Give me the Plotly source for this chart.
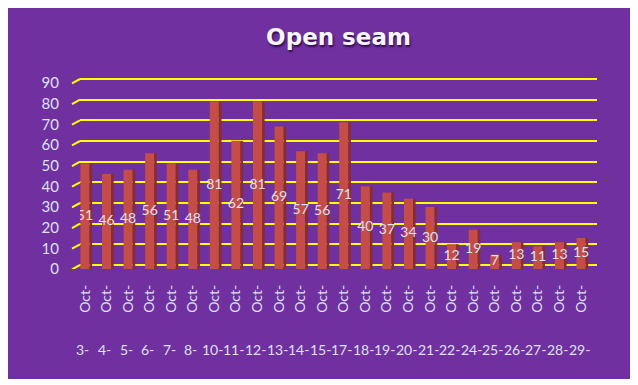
import plotly.graph_objects as go

days = ["3-", "4-", "5-", "6-", "7-", "8-", "10-", "11-", "12-", "13-", "14-", "15-",
        "17-", "18-", "19-", "20-", "21-", "22-", "24-", "25-", "26-", "27-", "28-", "29-"]
month_label = "Oct-"
values = [51, 46, 48, 56, 51, 48, 81, 62, 81, 69, 57, 56,
          71, 40, 37, 34, 30, 12, 19, 7, 13, 11, 13, 15]
y_ticks = [0, 10, 20, 30, 40, 50, 60, 70, 80, 90]

idx = list(range(len(values)))
txt_color = "#DCE1F2"
font_family = "Lato, 'Open Sans', sans-serif"

# page is offset by the 8px body margin; figure coordinates = page - 8
FIG_W, FIG_H = 624, 371
PLOT_L, PLOT_R = 72, 589
PLOT_T, PLOT_B = 64, 261
PLOT_W = PLOT_R - PLOT_L
PLOT_H = PLOT_B - PLOT_T
PX_PER_UNIT = 186.0 / 90.0
grid_shift = 4.0 / PX_PER_UNIT

fig = go.Figure()
# front face
fig.add_trace(go.Bar(x=idx, y=values, width=0.42, offset=-0.21,
                     marker=dict(color="#C44D49", line=dict(width=0)),
                     hoverinfo="skip", showlegend=False))
# side face (3D look)
fig.add_trace(go.Bar(x=idx, y=values, width=0.12, offset=0.21,
                     marker=dict(color="#8A2C29", line=dict(width=0)),
                     hoverinfo="skip", showlegend=False))
# data labels, centred in the bars
fig.add_trace(go.Scatter(x=idx, y=[v / 2 for v in values], mode="text",
                         text=[str(v) for v in values],
                         textfont=dict(color=txt_color, size=14, family=font_family),
                         hoverinfo="skip", showlegend=False))

shapes = []
# small perspective diagonals at the left end of each gridline
for t in y_ticks:
    shapes.append(dict(type="line", xref="paper", yref="y2",
                       x0=0, y0=t, x1=-8 / PLOT_W, y1=t - grid_shift * 1.1,
                       line=dict(color="#FFFF00", width=2), layer="below"))

annotations = []
for i, d in enumerate(days):
    annotations.append(dict(x=i, y=-(349 - 8 - PLOT_B) / PLOT_H, xref="x", yref="paper",
                            text=d, showarrow=False, xshift=-2,
                            font=dict(color=txt_color, size=14, family=font_family),
                            xanchor="center", yanchor="middle"))

fig.update_layout(
    width=FIG_W, height=FIG_H,
    margin=dict(l=PLOT_L, r=FIG_W - PLOT_R, t=PLOT_T, b=FIG_H - PLOT_B),
    paper_bgcolor="#7030A0",
    plot_bgcolor="rgba(0,0,0,0)",
    barmode="overlay",
    title=dict(text="<b>Open seam</b>", x=0.5, xref="paper", xanchor="center",
               y=1 - 28.5 / FIG_H, yanchor="middle",
               font=dict(size=23, color="#F6F6FA", family="DejaVu Sans",
                         shadow="1px 2px 2px #2E0D4A")),
    xaxis=dict(range=[-0.23, 23.74], tickmode="array", tickvals=idx,
               ticktext=[month_label] * len(idx), tickangle=-90,
               tickfont=dict(color=txt_color, size=14, family=font_family),
               showgrid=False, zeroline=False, showline=False, ticks="",
               ticklabelstandoff=12),
    yaxis=dict(range=[0, PLOT_H / PX_PER_UNIT], tickmode="array", tickvals=y_ticks,
               tickfont=dict(color=txt_color, size=15, family=font_family),
               showgrid=False, zeroline=False, showline=False, ticks="",
               ticklabelstandoff=20),
    yaxis2=dict(range=[-grid_shift, -grid_shift + PLOT_H / PX_PER_UNIT],
                overlaying="y", tickmode="array",
                tickvals=y_ticks, showticklabels=False, showgrid=True,
                gridcolor="#FFFF00", gridwidth=2, zeroline=False, showline=False,
                ticks=""),
    shapes=shapes,
    annotations=annotations,
)

fig.write_html("out.html")
